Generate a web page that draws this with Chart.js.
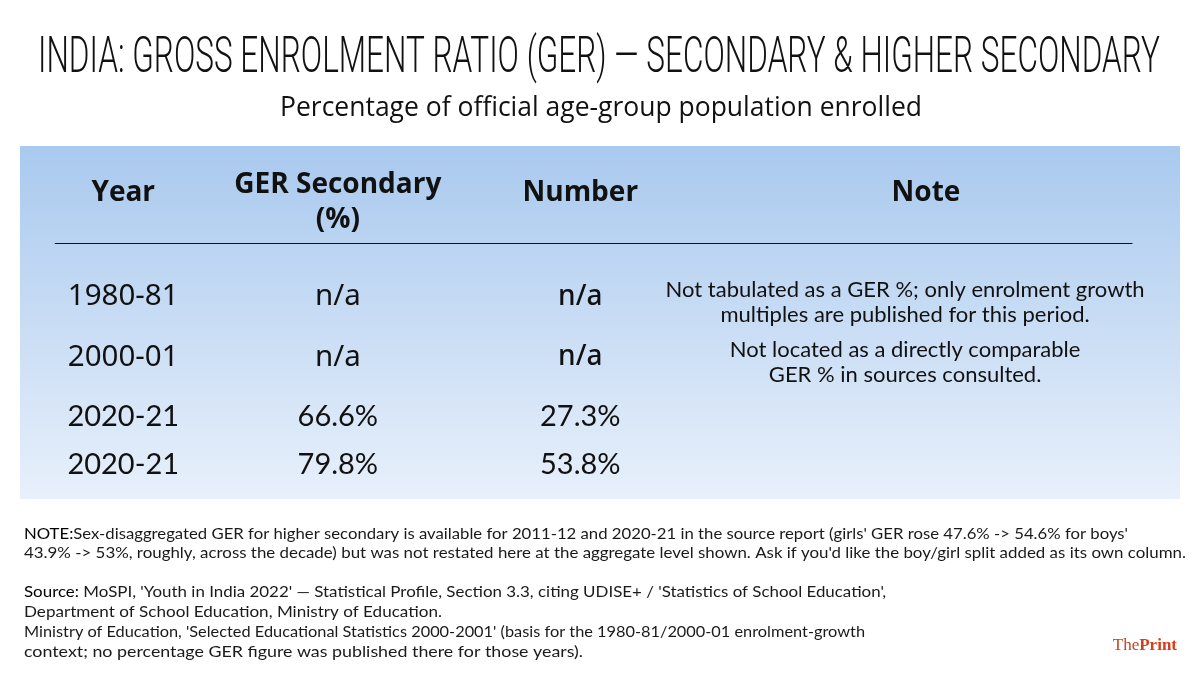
<!DOCTYPE html>
<html>
<head>
<meta charset="utf-8">
<script src="https://cdn.jsdelivr.net/npm/chart.js@4.4.1/dist/chart.umd.min.js"></script>
<style>
  html, body { margin: 0; padding: 0; background: #ffffff; }
  #wrap { width: 1200px; height: 675px; position: relative; }
</style>
</head>
<body>
<div id="wrap"><canvas id="c"></canvas></div>
<script>
// ---------------- DATA ----------------
const title = "INDIA: GROSS ENROLMENT RATIO (GER) \u2014 SECONDARY & HIGHER SECONDARY";
const subtitle = "Percentage of official age-group population enrolled";
const columnHeaders = [["Year"], ["GER Secondary", "(%)"], ["Number"], ["Note"]];
const years = ["1980-81", "2000-01", "2020-21", "2020-21"];
const gerSecondary = ["n/a", "n/a", "66.6%", "79.8%"];
const numbers = ["n/a", "n/a", "27.3%", "53.8%"];
const notes = [
  ["Not tabulated as a GER %; only enrolment growth", "multiples are published for this period."],
  ["Not located as a directly comparable", "GER % in sources consulted."],
  [],
  []
];
const noteLines = [
  ["NOTE:", "Sex-disaggregated GER for higher secondary is available for 2011-12 and 2020-21 in the source report (girls' GER rose 47.6% -> 54.6% for boys'"],
  ["", "43.9% -> 53%, roughly, across the decade) but was not restated here at the aggregate level shown. Ask if you'd like the boy/girl split added as its own column."]
];
const sourceLines = [
  ["Source:", " MoSPI, 'Youth in India 2022' \u2014 Statistical Profile, Section 3.3, citing UDISE+ / 'Statistics of School Education',"],
  ["", "Department of School Education, Ministry of Education."],
  ["", "Ministry of Education, 'Selected Educational Statistics 2000-2001' (basis for the 1980-81/2000-01 enrolment-growth"],
  ["", "context; no percentage GER figure was published there for those years)."]
];

// ---------------- LAYOUT (fractions of the table box) ----------------
const colCenters = [0.089, 0.274, 0.483, 0.763];
const headerCenters = [0.089, 0.274, 0.483, 0.781];
const rowCenters = [0.428, 0.598, 0.768, 0.904];
const headerRow = 0.133;
const ruleRow = 0.275;
const ruleSpan = [0.030, 0.959];

const columns = [years, gerSecondary, numbers, notes];

const textPlugin = {
  id: 'tableText',
  beforeDraw(chart) {
    const { ctx, chartArea: a } = chart;
    ctx.save();
    ctx.fillStyle = '#ffffff';
    ctx.fillRect(0, 0, chart.width, chart.height);
    const g = ctx.createLinearGradient(0, a.top, 0, a.bottom);
    g.addColorStop(0, '#a9c9ee');
    g.addColorStop(1, '#e8f0fb');
    ctx.fillStyle = g;
    ctx.fillRect(a.left, a.top, a.right - a.left, a.bottom - a.top);
    ctx.restore();
  },
  afterDraw(chart) {
    const { ctx, chartArea: a, scales: { x, y } } = chart;
    ctx.save();
    ctx.fillStyle = '#111111';

    // Title
    ctx.textAlign = 'center';
    ctx.textBaseline = 'alphabetic';
    ctx.font = '300 50px Roboto';
    ctx.fillText(title, 599, 72, 1122);

    // Subtitle
    ctx.font = '400 26.5px "Open Sans"';
    ctx.fillText(subtitle, 601, 116, 642);

    // Headers
    ctx.textBaseline = 'middle';
    ctx.font = '700 28px "Open Sans"';
    columnHeaders.forEach((lines, c) => {
      const cx = x.getPixelForValue(headerCenters[c]);
      const cy = y.getPixelForValue(headerRow);
      const start = lines.length > 1 ? cy - 8 : cy;
      lines.forEach((t, i) => ctx.fillText(t, cx, start + i * 35));
    });

    // Rule under headers
    ctx.strokeStyle = '#111111';
    ctx.lineWidth = 1.2;
    ctx.beginPath();
    const ry = Math.round(y.getPixelForValue(ruleRow)) + 0.5;
    ctx.moveTo(x.getPixelForValue(ruleSpan[0]), ry);
    ctx.lineTo(x.getPixelForValue(ruleSpan[1]), ry);
    ctx.stroke();

    // Cells (positions come from dataset elements via scales)
    chart.data.datasets.forEach((ds, c) => {
      const meta = chart.getDatasetMeta(c);
      meta.data.forEach((pt, r) => {
        const v = ds.data[r].text;
        if (Array.isArray(v)) {
          ctx.font = '400 22px Lato';
          const n = v.length;
          v.forEach((t, i) => ctx.fillText(t, pt.x, pt.y + 5 + (i - (n - 1) / 2) * 25));
        } else {
          if (/%/.test(v)) ctx.font = '400 29px Lato';
          else if (v === 'n/a' && c === 2) ctx.font = '500 28px "Noto Sans"';
          else if (r >= 2) ctx.font = '400 29px Lato';
          else ctx.font = '400 29.5px "Noto Sans"';
          ctx.fillText(v, pt.x, pt.y);
        }
      });
    });

    // Footnotes (each line fitted to the reference line length)
    ctx.textAlign = 'left';
    ctx.textBaseline = 'alphabetic';
    const footFont = '400 16px Lato';
    const drawLine = (parts, bx, by, targetW) => {
      ctx.font = footFont;
      const w0 = ctx.measureText(parts[0]).width;
      const w1 = ctx.measureText(parts[1]).width;
      const k = targetW / (w0 + w1);
      ctx.save();
      ctx.translate(bx, by);
      ctx.scale(k, 1);
      ctx.fillStyle = '#000000';
      ctx.fillText(parts[0], 0, 0);
      ctx.fillStyle = '#1a1a1a';
      ctx.fillText(parts[1], w0, 0);
      ctx.restore();
    };
    const noteWidths = [1104, 1162];
    noteLines.forEach((p, i) => drawLine(p, 24, 539 + i * 19, noteWidths[i]));
    const srcWidths = [862, 418, 841, 559];
    sourceLines.forEach((p, i) => drawLine(p, 24, 597 + i * 20, srcWidths[i]));

    // Logo
    ctx.textAlign = 'right';
    ctx.fillStyle = '#d2401e';
    ctx.font = '700 17px "Liberation Serif"';
    const pw = ctx.measureText('Print').width;
    ctx.fillText('Print', 1177, 650);
    ctx.font = '400 17px "Liberation Serif"';
    ctx.fillText('The', 1177 - pw, 650);

    ctx.restore();
  }
};

new Chart(document.getElementById('c'), {
  type: 'scatter',
  data: {
    datasets: columns.map((col, c) => ({
      label: columnHeaders[c].join(' '),
      data: col.map((v, r) => ({ x: colCenters[c], y: rowCenters[r], text: v })),
      pointRadius: 0,
      pointHoverRadius: 0,
      showLine: false
    }))
  },
  options: {
    responsive: true,
    maintainAspectRatio: false,
    animation: false,
    events: [],
    layout: { padding: { left: 20, right: 20, top: 146, bottom: 176 } },
    plugins: { legend: { display: false }, tooltip: { enabled: false }, title: { display: false } },
    scales: {
      x: { type: 'linear', min: 0, max: 1, display: false },
      y: { type: 'linear', min: 0, max: 1, reverse: true, display: false }
    }
  },
  plugins: [textPlugin]
});
</script>
</body>
</html>
